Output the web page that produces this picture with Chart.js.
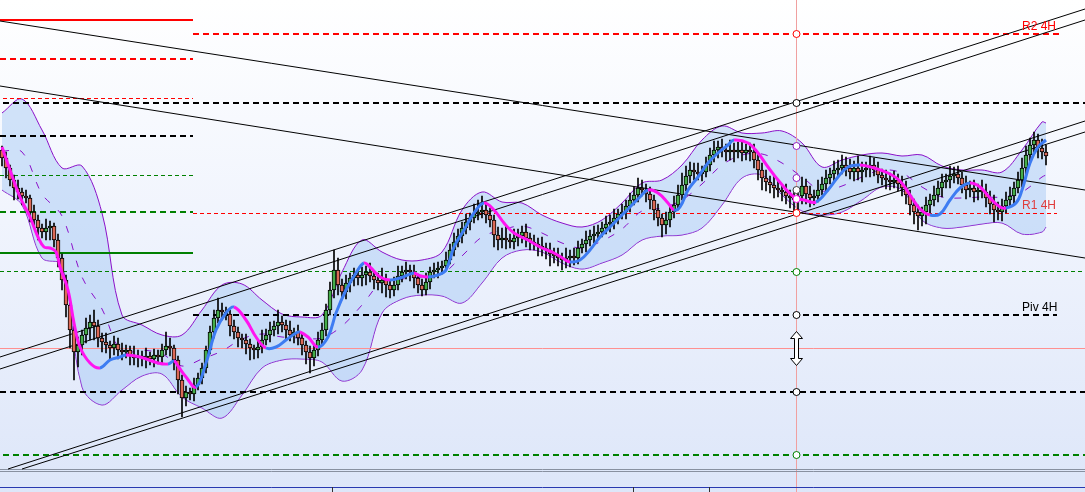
<!DOCTYPE html>
<html>
<head>
<meta charset="utf-8">
<script src="https://cdn.jsdelivr.net/npm/chart.js@4.4.0/dist/chart.umd.min.js"></script>
<style>
html,body{margin:0;padding:0;overflow:hidden;background:#fff}
#wrap{width:1085px;height:492px;background:linear-gradient(to bottom,#ffffff 0%,#f0f4fd 45%,#dde6f9 100%)}
canvas{display:block}
</style>
</head>
<body>
<div id="wrap"><canvas id="c" width="1085" height="492"></canvas></div>
<script>
// ================== Price data (4H bars, price in points) ==================
const firstOpen = 350;
const closes = [
  342,332,320,312,308,304,302,288,280,272,
  268,272,274,260,242,220,195,170,148,155,
  165,172,178,174,162,158,155,152,156,150,
  148,150,145,142,144,142,144,141,145,143,
  150,154,152,140,120,102,108,106,115,122,
  132,150,168,182,190,188,186,174,168,162,
  160,156,152,150,153,160,165,170,174,178,
  175,170,165,168,162,155,148,142,150,160,
  170,190,210,230,215,208,217,222,225,222,
  225,228,224,220,217,220,215,210,215,224,
  228,230,228,222,215,210,218,228,230,232,
  234,240,250,258,264,272,278,282,286,288,
  290,285,280,265,260,262,260,258,262,264,
  268,262,258,256,254,252,250,246,244,242,
  240,242,244,242,252,256,260,264,266,268,
  272,276,278,282,286,288,294,300,305,312,
  310,306,300,290,282,275,280,288,295,305,
  315,324,330,328,326,328,335,345,350,353,
  350,348,350,348,350,347,350,348,340,330,
  322,318,315,312,310,308,304,302,300,304,
  314,306,302,304,310,316,322,326,330,332,
  335,332,328,332,328,330,332,335,330,325,
  322,320,318,320,316,312,305,295,288,284,
  288,295,300,305,312,318,320,324,326,322,
  315,310,312,308,310,308,302,296,290,288,
  294,300,304,312,320,332,345,355,360,352,348,344
];
const wickUp = [
  4,6,3,5,8,4,6,3,7,5, 4,9,5,3,6,4,5,3,6,8, 5,10,7,12,6,5,9,4,8,6,
  7,5,4,9,6,5,8,4,6,5, 6,14,8,3,4,5,6,4,7,5, 5,4,6,8,12,7,5,4,6,5,
  4,6,5,3,7,10,6,8,5,12, 6,5,9,4,7,5,4,6,5,8, 7,6,8,20,12,6,8,5,7,6,
  8,6,9,5,7,12,6,5,8,10, 6,8,5,7,4,6,9,5,7,6, 5,8,6,9,7,6,8,5,10,12,
  14,6,7,5,8,10,12,6,9,7, 6,8,5,7,6,9,5,7,6,8, 5,10,6,8,7,5,9,6,8,7,
  6,8,7,9,5,8,6,7,8,10, 8,6,7,5,6,4,8,7,9,10, 12,10,8,7,9,6,8,7,9,6,
  8,6,10,7,8,9,6,7,8,6, 7,8,6,9,7,5,8,6,7,5, 9,7,8,6,10,7,8,6,9,8,
  10,8,9,7,12,8,6,9,7,8, 6,8,7,9,6,8,7,5,6,7, 5,8,6,9,7,8,6,10,7,8,
  6,9,7,8,6,10,8,7,9,8, 7,8,9,6,8,10,9,7,8,6,9,7
];
const wickDn = [
  8,10,6,12,7,9,5,10,8,12, 6,8,12,7,9,10,12,18,28,15, 10,8,12,14,9,10,8,12,7,9,
  8,6,10,7,9,8,10,6,8,7, 6,5,8,10,14,19,8,6,7,5, 6,5,4,6,5,8,6,10,7,9,
  8,10,12,9,8,6,5,7,6,8, 7,9,6,8,7,10,12,15,8,6, 5,6,5,8,10,6,7,9,8,7,
  8,10,6,9,7,10,12,8,6,5, 6,7,9,10,8,6,5,7,6,8, 6,5,4,6,5,7,6,8,5,6,
  6,8,7,12,10,8,9,6,7,8, 7,9,8,6,10,8,9,12,7,8, 10,8,9,7,6,5,8,6,7,5,
  5,6,8,7,6,5,7,6,5,7, 6,8,9,10,8,12,9,7,6,5, 5,6,7,8,6,7,5,6,7,8,
  7,9,8,10,6,8,7,9,8,10, 12,9,8,10,7,9,8,10,12,14, 8,10,9,7,6,5,7,6,8,7,
  6,8,7,9,8,10,7,9,6,8, 7,9,8,6,7,8,9,10,12,14, 10,12,8,6,7,9,6,8,7,6,
  8,9,7,10,8,6,9,10,12,8, 9,7,6,8,5,7,6,9,8,10,7,9
];

// ================== Bollinger bands ==================
const bandIdx = [0,5,10,15,20,25,30,35,40,45,50,55,60,65,70,75,80,85,90,95,100,105,110,115,120,125,130,135,140,145,150,155,160,165,170,175,180,185,190,195,200,205,210,215,220,225,230,235,240,245,250,255,260,261];
const bandUpper = [387,401,370,332,334,287,185,175,165,165,190,215,216,200,186,183,185,228,260,248,240,240,248,290,308,298,297,285,277,273,280,297,317,320,335,360,374,367,367,369,357,333,340,345,347,344,345,334,330,330,328,350,378,377];
const bandLower = [310,295,242,235,113,95,110,124,126,103,92,82,105,132,140,141,138,119,130,187,201,205,204,197,217,242,250,248,237,231,237,245,260,264,265,272,295,322,325,305,289,285,288,300,313,310,280,272,273,276,277,266,268,273];
const bandMid = [349,348,306,284,223,191,148,150,146,134,141,149,161,166,163,162,162,174,195,218,221,223,226,244,263,270,274,267,257,252,259,271,289,292,300,316,335,345,346,337,323,309,314,323,330,327,313,303,302,303,303,308,323,325];

// ================== Trend MA (blue rising / magenta falling) ==================
const maIdx = [0,2,4.5,7,9,10.5,12,13.5,14.5,16.5,18,19.5,22,24.5,27,29.5,31,34.5,39,41.5,43,44,46,48.5,51,53.5,56,58,61,63.5,66,68.5,71,73.5,74.5,76.5,79,81.5,83.5,86,88.5,90.5,92,94.5,97,99.5,103,104,106.5,109,111,113,115.5,118,120.5,123,125.5,128,131.5,134.5,138,140.5,142,144.5,147,149.5,152,154.5,157,159.5,161.5,164,166.5,168,169.5,171.5,174,176.5,179,181.5,183,186.5,189,191.5,194,198,200.5,203.5,206.5,209,211.5,214.5,218,221.5,224.5,227,229.5,232,234.5,237,239.5,242,244.5,247,249.5,251,253.5,255,257,259,261];
const maVal = [353,330,303,283,263,253,252,248,233,210,177,153,137,132,140,143,145,143,137,136,139,134,123,113,137,170,187,193,180,163,152,153,160,167,168,163,153,163,187,210,227,237,233,223,220,222,227,225,223,225,230,253,270,287,297,290,277,267,260,253,247,241,238,240,250,263,273,283,293,303,310,307,297,290,293,310,323,337,347,355,360,357,347,333,320,303,300,298,310,323,333,335,332,327,319,305,291,285,286,300,312,317,313,302,293,292,297,310,337,353,360];

// ================== Pivot levels ==================
const levelVal  = [480,466,441,401.5,397,364,324.5,288,286.5,247,228.5,185,151.5,108,45,30.5,28.5,12.5];
const levelFrom = [-0.5,47.75,-0.5,0.25,0.25,-0.5,-0.5,-0.5,47.75,-0.5,-0.5,47.75,-0.5,-0.5,0.25,-0.5,-0.5,-0.5];
const levelTo   = [47.75,264.5,47.75,47.75,270.75,47.75,47.75,47.75,263.75,47.75,270.75,263.75,270.75,270.75,270.75,270.75,270.75,270.75];
const levelStyle = [
  {c:'#ff0000',w:2,d:[]},{c:'#ff0000',w:2,d:[6,4]},{c:'#ff0000',w:2,d:[6,4]},{c:'#ff0000',w:1,d:[4,3]},
  {c:'#000000',w:2,d:[6,4]},{c:'#000000',w:2,d:[6,4]},{c:'#008000',w:1,d:[4,3]},{c:'#008000',w:2,d:[6,4]},
  {c:'#ff0000',w:1,d:[4,3]},{c:'#008000',w:2,d:[]},{c:'#008000',w:1,d:[4,3]},{c:'#000000',w:2,d:[6,4]},
  {c:'#ff9090',w:1,d:[]},{c:'#000000',w:2,d:[6,4]},{c:'#008000',w:2,d:[6,4]},{c:'#8890a0',w:1,d:[]},
  {c:'#8890a0',w:1,d:[]},{c:'#2838b0',w:1,d:[]}
];

// ================== Trend lines ==================
const trendX0 = [-0.5,-0.5,-0.5,-0.5,1.5,5];
const trendY0 = [479,414,143,131,31,31];
const trendX1 = [270.75,270.75,270.75,270.75,270.75,270.75];
const trendY1 = [310,242,491,480,379,368];

// ================== Cursor / markers ==================
const cursorIdx = 198.625;
const markerVal = [466,397,354,322,310,301,287,228,185,108,45];
const markerColor = ['#ff0000','#000000','#9020c0','#9020c0','#404040','#ff10f0','#ff0000','#008000','#000000','#000000','#008000'];
const labelText = ['R2 4H','R1 4H','Piv 4H'];
const labelIdx = [255,255,255];
const labelVal = [473,294,192];
const labelColor = ['#ff0000','#e03c3c','#000000'];
const arrowVal = 152;
const tickIdx = [82.5,157.75,176.75];

// ================== Build datasets ==================
const datasets = [];
const bodies = [], wicks = [], bodyColors = [];
closes.forEach((c,i)=>{
  const o = i ? closes[i-1] : firstOpen; // 4H forex bars: open = previous close
  bodies.push({x:i,y:[o,c]});
  wicks.push({x:i,y:[Math.min(o,c)-wickDn[i],Math.max(o,c)+wickUp[i]]});
  bodyColors.push(c>=o?'#45ad4a':'#dc6a58');
});

datasets.push({type:'line',data:bandIdx.map((x,i)=>({x,y:bandUpper[i]})),borderColor:'#8a10c8',borderWidth:1,pointRadius:0,tension:0.35,fill:'+1',backgroundColor:'rgba(160,198,245,0.45)',order:10});
datasets.push({type:'line',data:bandIdx.map((x,i)=>({x,y:bandLower[i]})),borderColor:'#8a10c8',borderWidth:1,pointRadius:0,tension:0.35,fill:false,order:10});
datasets.push({type:'line',data:bandIdx.map((x,i)=>({x,y:bandMid[i]})),borderColor:'#8a10c8',borderWidth:1,borderDash:[7,11],pointRadius:0,tension:0.35,fill:false,order:6});

levelVal.forEach((v,i)=>{
  const s=levelStyle[i];
  datasets.push({type:'line',data:[{x:levelFrom[i],y:v},{x:levelTo[i],y:v}],borderColor:s.c,borderWidth:s.w,borderDash:s.d,pointRadius:0,fill:false,order:9});
});
trendX0.forEach((x,i)=>{
  datasets.push({type:'line',data:[{x,y:trendY0[i]},{x:trendX1[i],y:trendY1[i]}],borderColor:'#000',borderWidth:1,pointRadius:0,fill:false,order:8});
});
datasets.push({type:'line',data:[{x:cursorIdx,y:8},{x:cursorIdx,y:500}],borderColor:'#f0a0a0',borderWidth:1,pointRadius:0,fill:false,order:9});

datasets.push({type:'bar',data:wicks,backgroundColor:'#000',barThickness:1,grouped:false,order:5});
datasets.push({type:'bar',data:bodies,backgroundColor:bodyColors,borderColor:'#000',borderWidth:1,borderSkipped:false,barThickness:4,minBarLength:1,grouped:false,order:4});

datasets.push({type:'line',data:maIdx.map((x,i)=>({x,y:maVal[i]})),borderWidth:3,pointRadius:0,tension:0.4,fill:false,order:2,
  segment:{borderColor:c=>c.p1.parsed.y>=c.p0.parsed.y?'#3d7cf2':'#ff14f0'}});

datasets.push({type:'line',data:markerVal.map(v=>({x:cursorIdx,y:v})),showLine:false,pointRadius:3.5,pointBorderWidth:1,pointBackgroundColor:'#ffffff',pointBorderColor:markerColor,order:1});

// =============== Overlay: labels, arrow, ticks ===============
const overlay = {
  id:'overlay',
  afterDatasetsDraw(chart){
    const {ctx,scales:{x,y}} = chart;
    ctx.save();
    ctx.font = '12px "Liberation Sans", Arial, sans-serif';
    ctx.textBaseline = 'middle';
    labelText.forEach((t,i)=>{
      ctx.fillStyle = labelColor[i];
      ctx.fillText(t, x.getPixelForValue(labelIdx[i]), y.getPixelForValue(labelVal[i]));
    });
    // double arrow on cursor
    const ax = x.getPixelForValue(cursorIdx), ay = Math.round(y.getPixelForValue(arrowVal))+0.5;
    ctx.beginPath();
    ctx.moveTo(ax,ay-17); ctx.lineTo(ax+6,ay-10); ctx.lineTo(ax+2,ay-10); ctx.lineTo(ax+2,ay+10);
    ctx.lineTo(ax+6,ay+10); ctx.lineTo(ax,ay+17); ctx.lineTo(ax-6,ay+10); ctx.lineTo(ax-2,ay+10);
    ctx.lineTo(ax-2,ay-10); ctx.lineTo(ax-6,ay-10); ctx.closePath();
    ctx.fillStyle='#ffffff'; ctx.fill();
    ctx.strokeStyle='#000'; ctx.lineWidth=1; ctx.stroke();
    // small time ticks at the bottom
    ctx.strokeStyle='#303030';
    tickIdx.forEach(t=>{
      const px=Math.round(x.getPixelForValue(t))+0.5;
      ctx.beginPath(); ctx.moveTo(px,y.bottom-5); ctx.lineTo(px,y.bottom); ctx.stroke();
    });
    ctx.restore();
  }
};

new Chart(document.getElementById('c'),{
  type:'bar',
  data:{datasets},
  options:{
    responsive:false,animation:false,events:[],
    layout:{padding:0,autoPadding:false},
    scales:{
      x:{type:'linear',min:-0.5,max:270.75,offset:false,display:false},
      y:{type:'linear',min:8,max:500,display:false}
    },
    plugins:{legend:{display:false},tooltip:{enabled:false}}
  },
  plugins:[overlay]
});
</script>
</body>
</html>
